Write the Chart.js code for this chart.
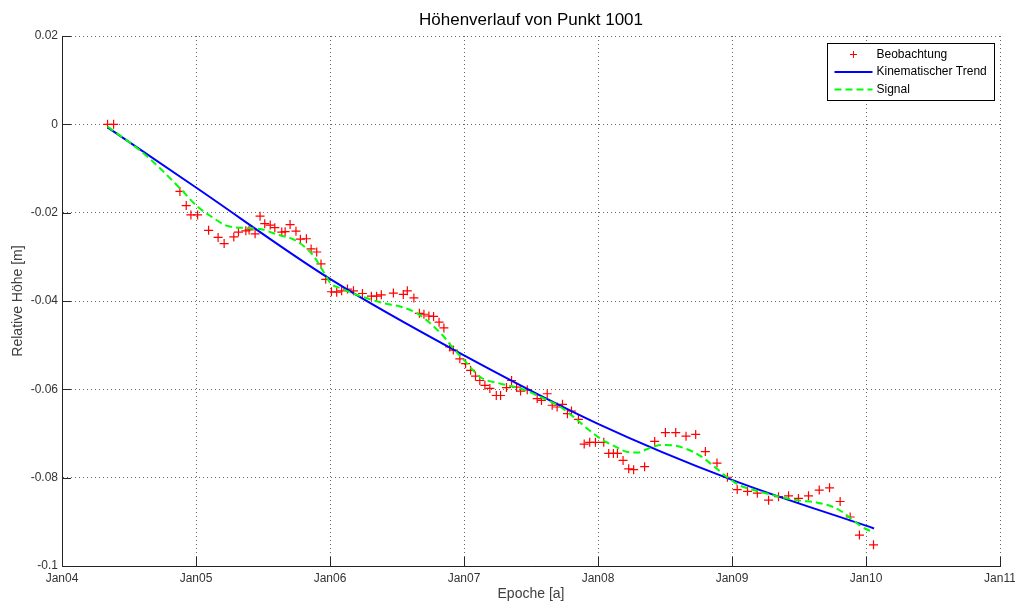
<!DOCTYPE html>
<html>
<head>
<meta charset="utf-8">
<title>Höhenverlauf von Punkt 1001</title>
<script src="https://cdn.jsdelivr.net/npm/chart.js@4.4.1/dist/chart.umd.min.js"></script>
<style>
  html, body { margin: 0; padding: 0; background: #fff; }
  #wrap { width: 1015px; height: 605px; }
</style>
</head>
<body>
<div id="wrap"><canvas id="hoehe" width="1015" height="605"></canvas></div>
<script>
// --- Data (epoch in decimal years, height in m) ---
const obsEpochs = [
  2004.34, 2004.385, 2004.88, 2004.927, 2004.962, 2005.012, 2005.094, 2005.165, 2005.21, 2005.282,
  2005.317, 2005.372, 2005.396, 2005.441, 2005.478, 2005.513, 2005.554, 2005.588, 2005.64, 2005.665,
  2005.702, 2005.746, 2005.779, 2005.824, 2005.859, 2005.901, 2005.933, 2005.968, 2006.011, 2006.05,
  2006.087, 2006.13, 2006.175, 2006.242, 2006.309, 2006.348, 2006.383, 2006.473, 2006.547, 2006.577,
  2006.626, 2006.667, 2006.701, 2006.738, 2006.773, 2006.814, 2006.85, 2006.893, 2006.92, 2006.969,
  2007.012, 2007.049, 2007.086, 2007.118, 2007.156, 2007.193, 2007.241, 2007.273, 2007.317, 2007.355,
  2007.392, 2007.422, 2007.472, 2007.546, 2007.578, 2007.621, 2007.658, 2007.695, 2007.735, 2007.772,
  2007.802, 2007.854, 2007.897, 2007.938, 2007.981, 2008.043, 2008.08, 2008.115, 2008.145, 2008.187,
  2008.229, 2008.266, 2008.348, 2008.423, 2008.503, 2008.58, 2008.657, 2008.729, 2008.801, 2008.888,
  2008.966, 2009.039, 2009.116, 2009.189, 2009.273, 2009.347, 2009.422, 2009.496, 2009.571, 2009.651,
  2009.728, 2009.807, 2009.882, 2009.951, 2010.056
];
const obsHeights = [
  0.0, 0.0, -0.0152, -0.0184, -0.0205, -0.0205, -0.0240, -0.0256, -0.0270, -0.0255,
  -0.0244, -0.0241, -0.0239, -0.0248, -0.0208, -0.0225, -0.0228, -0.0234, -0.0244, -0.0243,
  -0.0227, -0.0242, -0.0260, -0.0259, -0.0282, -0.0289, -0.0316, -0.0351, -0.0379, -0.0380,
  -0.0377, -0.0373, -0.0377, -0.0383, -0.0389, -0.0389, -0.0386, -0.0382, -0.0385, -0.0377,
  -0.0393, -0.0428, -0.0430, -0.0434, -0.0435, -0.0448, -0.0461, -0.0504, -0.0511, -0.0531,
  -0.0542, -0.0557, -0.0570, -0.0580, -0.0591, -0.0598, -0.0614, -0.0614, -0.0596, -0.0580,
  -0.0595, -0.0604, -0.0601, -0.0621, -0.0625, -0.0610, -0.0636, -0.0640, -0.0634, -0.0655,
  -0.0649, -0.0668, -0.0724, -0.0720, -0.0720, -0.0720, -0.0745, -0.0745, -0.0745, -0.0761,
  -0.0780, -0.0782, -0.0775, -0.0718, -0.0698, -0.0698, -0.0706, -0.0702, -0.0741, -0.0767,
  -0.0799, -0.0827, -0.0831, -0.0835, -0.0851, -0.0843, -0.0841, -0.0847, -0.0841, -0.0828,
  -0.0823, -0.0854, -0.0889, -0.0930, -0.0952
];

const trendEpochs  = [2004.34, 2005.0, 2006.0, 2007.0, 2008.0, 2009.0, 2010.06];
const trendHeights = [-0.0007, -0.0143, -0.0350, -0.0523, -0.0678, -0.0805, -0.0915];

const signalEpochs = [
  2004.34, 2004.59, 2004.74, 2004.89, 2005.01, 2005.11, 2005.235, 2005.38, 2005.48, 2005.61,
  2005.73, 2005.81, 2005.88, 2005.94, 2006.005, 2006.08, 2006.2, 2006.4, 2006.53, 2006.65,
  2006.75, 2006.85, 2006.9, 2007.0, 2007.12, 2007.27, 2007.42, 2007.57, 2007.72, 2007.82,
  2007.92, 2008.04, 2008.12, 2008.22, 2008.3, 2008.37, 2008.47, 2008.56, 2008.66, 2008.76,
  2008.86, 2008.96, 2009.06, 2009.14, 2009.26, 2009.38, 2009.51, 2009.63, 2009.76, 2009.83,
  2009.91, 2009.98, 2010.06
];
const signalHeights = [
  -0.0005, -0.0061, -0.0102, -0.0148, -0.0186, -0.0208, -0.0230, -0.0235, -0.0237, -0.0250,
  -0.0261, -0.0277, -0.0299, -0.0328, -0.0360, -0.0371, -0.0386, -0.0405, -0.0413, -0.0428,
  -0.0451, -0.0481, -0.0500, -0.0534, -0.0572, -0.0587, -0.0598, -0.0617, -0.0640, -0.0663,
  -0.0689, -0.0716, -0.0728, -0.0742, -0.0743, -0.0735, -0.0726, -0.0727, -0.0735, -0.0750,
  -0.0773, -0.0798, -0.0818, -0.0826, -0.0836, -0.0845, -0.0852, -0.0856, -0.0867, -0.0879,
  -0.0898, -0.0913, -0.0924
];

// --- Axis ticks ---
const xTickValues = [2004, 2005, 2006, 2007, 2008, 2009, 2010, 2011];
const xTickLabels = ['Jan04', 'Jan05', 'Jan06', 'Jan07', 'Jan08', 'Jan09', 'Jan10', 'Jan11'];
const yTickValues = [-0.1, -0.08, -0.06, -0.04, -0.02, 0, 0.02];
const yTickLabels = ['-0.1', '-0.08', '-0.06', '-0.04', '-0.02', '0', '0.02'];

const FONT = "'Liberation Sans', Arial, Helvetica, sans-serif";
const toXY = (xs, ys) => xs.map((x, i) => ({ x: x, y: ys[i] }));

// inward tick marks like MATLAB axes
const innerTicks = {
  id: 'innerTicks',
  afterDraw(chart) {
    const { ctx, chartArea: a, scales: { x, y } } = chart;
    ctx.save();
    ctx.strokeStyle = '#262626';
    ctx.lineWidth = 1;
    ctx.beginPath();
    x.ticks.forEach(t => {
      const px = Math.round(x.getPixelForValue(t.value)) + 0.5;
      ctx.moveTo(px, a.bottom);
      ctx.lineTo(px, a.bottom - 9);
    });
    y.ticks.forEach(t => {
      const py = Math.round(y.getPixelForValue(t.value)) + 0.5;
      ctx.moveTo(a.left, py);
      ctx.lineTo(a.left + 9, py);
    });
    ctx.stroke();
    ctx.restore();
  }
};

// legend box in the upper right corner of the plot
const legendBox = {
  id: 'legendBox',
  afterDraw(chart) {
    const { ctx, chartArea: a } = chart;
    const w = 167, h = 57, rowH = 17.5;
    const left = Math.round(a.right - 6 - w) + 0.5;
    const top = Math.round(a.top + 7) + 0.5;
    ctx.save();
    ctx.fillStyle = '#fff';
    ctx.fillRect(left, top, w, h);
    ctx.strokeStyle = '#000';
    ctx.lineWidth = 1;
    ctx.strokeRect(left, top, w, h);
    ctx.font = '12px ' + FONT;
    ctx.textBaseline = 'middle';
    ctx.textAlign = 'left';
    chart.data.datasets.forEach((ds, i) => {
      const cy = top + 11 + i * rowH;
      const x1 = left + 7, x2 = left + 45;
      ctx.save();
      if (ds.showLine === false) {
        const cx = (x1 + x2) / 2;
        ctx.strokeStyle = ds.pointBorderColor;
        ctx.lineWidth = 1;
        ctx.beginPath();
        ctx.moveTo(cx - 3.5, cy); ctx.lineTo(cx + 3.5, cy);
        ctx.moveTo(cx, cy - 3.5); ctx.lineTo(cx, cy + 3.5);
        ctx.stroke();
      } else {
        ctx.strokeStyle = ds.borderColor;
        ctx.lineWidth = ds.borderWidth;
        ctx.setLineDash(ds.borderDash || []);
        ctx.beginPath();
        ctx.moveTo(x1, cy); ctx.lineTo(x2, cy);
        ctx.stroke();
      }
      ctx.restore();
      ctx.fillStyle = '#000';
      ctx.fillText(ds.label, left + 49, cy);
    });
    ctx.restore();
  }
};

new Chart(document.getElementById('hoehe').getContext('2d'), {
  type: 'scatter',
  data: {
    datasets: [
      {
        label: 'Beobachtung',
        data: toXY(obsEpochs, obsHeights),
        showLine: false,
        pointStyle: 'cross',
        pointRadius: 4.5,
        pointBorderWidth: 1.2,
        pointBorderColor: 'rgb(255,0,0)',
        pointBackgroundColor: 'rgb(255,0,0)',
        order: 3
      },
      {
        label: 'Kinematischer Trend',
        data: toXY(trendEpochs, trendHeights),
        showLine: true,
        borderColor: 'rgb(0,0,255)',
        borderWidth: 2,
        pointRadius: 0,
        cubicInterpolationMode: 'monotone',
        order: 2
      },
      {
        label: 'Signal',
        data: toXY(signalEpochs, signalHeights),
        showLine: true,
        borderColor: 'rgb(0,255,0)',
        borderWidth: 2,
        borderDash: [7, 4],
        pointRadius: 0,
        cubicInterpolationMode: 'monotone',
        order: 1
      }
    ]
  },
  options: {
    responsive: false,
    animation: false,
    layout: { padding: { left: 0, right: 15, top: 0, bottom: 0 } },
    plugins: {
      legend: { display: false },
      tooltip: { enabled: false },
      title: {
        display: true,
        fullSize: false,
        text: 'Höhenverlauf von Punkt 1001',
        color: '#000',
        font: { family: FONT, size: 17, weight: 'normal' },
        padding: { top: 10, bottom: 5.6 }
      }
    },
    scales: {
      x: {
        type: 'linear',
        min: 2004,
        max: 2011,
        afterBuildTicks: s => { s.ticks = xTickValues.map(v => ({ value: v })); },
        afterFit: s => { s.height = 39; s.paddingLeft = 0; s.paddingRight = 0; },
        ticks: {
          autoSkip: false,
          maxRotation: 0,
          padding: 5,
          color: '#333',
          font: { family: FONT, size: 12 },
          callback: (v, i) => xTickLabels[i]
        },
        grid: { color: '#666', lineWidth: 1, drawTicks: false },
        border: { display: true, color: '#222', width: 1, dash: [1, 3] },
        title: {
          display: true,
          text: 'Epoche [a]',
          color: '#404040',
          font: { family: FONT, size: 14 },
          padding: { top: 0, bottom: 2 }
        }
      },
      y: {
        type: 'linear',
        min: -0.1,
        max: 0.02,
        afterBuildTicks: s => { s.ticks = yTickValues.map(v => ({ value: v })); },
        afterFit: s => { s.width = 62; s.paddingTop = 0; s.paddingBottom = 0; },
        ticks: {
          autoSkip: false,
          padding: 4,
          color: '#333',
          font: { family: FONT, size: 12 },
          callback: (v, i) => yTickLabels[i]
        },
        grid: { color: '#666', lineWidth: 1, drawTicks: false },
        border: { display: true, color: '#222', width: 1, dash: [1, 3] },
        title: {
          display: true,
          text: 'Relative Höhe [m]',
          color: '#404040',
          font: { family: FONT, size: 14 },
          padding: { top: 10, bottom: 0 }
        }
      }
    }
  },
  plugins: [innerTicks, legendBox]
});
</script>
</body>
</html>
